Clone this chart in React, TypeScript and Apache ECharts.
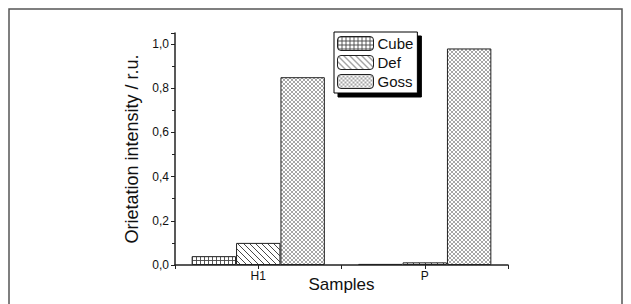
import React, { useEffect, useRef } from "react";
import * as echarts from "echarts";

const categories = ["H1", "P"];
const seriesNames = ["Cube", "Def", "Goss"];
const cubeValues = [0.04, 0.005];
const defValues = [0.1, 0.012];
const gossValues = [0.85, 0.98];
const yTickLabels = ["0,0", "0,2", "0,4", "0,6", "0,8", "1,0"];

function makePattern(kind: string): HTMLCanvasElement {
  const c = document.createElement("canvas");
  const s = kind === "grid" ? 4 : kind === "diag" ? 6 : 4;
  c.width = s;
  c.height = s;
  const ctx = c.getContext("2d")!;
  ctx.fillStyle = "#ffffff";
  ctx.fillRect(0, 0, s, s);
  ctx.beginPath();
  if (kind === "grid") {
    ctx.strokeStyle = "#444444";
    ctx.lineWidth = 0.9;
    ctx.moveTo(0.5, 0);
    ctx.lineTo(0.5, s);
    ctx.moveTo(0, 0.5);
    ctx.lineTo(s, 0.5);
  } else if (kind === "diag") {
    ctx.strokeStyle = "#333333";
    ctx.lineWidth = 0.9;
    ctx.moveTo(-1, -1);
    ctx.lineTo(s + 1, s + 1);
    ctx.moveTo(-1, s - 1);
    ctx.lineTo(1, s + 1);
    ctx.moveTo(s - 1, -1);
    ctx.lineTo(s + 1, 1);
  } else {
    ctx.strokeStyle = "#808080";
    ctx.lineWidth = 0.7;
    ctx.moveTo(0, 0);
    ctx.lineTo(s, s);
    ctx.moveTo(s, 0);
    ctx.lineTo(0, s);
  }
  ctx.stroke();
  return c;
}

export default function App() {
  const ref = useRef<HTMLDivElement>(null);
  useEffect(() => {
    if (!ref.current) return;
    const chart = echarts.init(ref.current, undefined, { renderer: "svg" });
    const patterns = [makePattern("grid"), makePattern("diag"), makePattern("cross")];
    const dataSets = [cubeValues, defValues, gossValues];
    const font = "Liberation Sans, Arial, sans-serif";
    chart.setOption({
      animation: false,
      textStyle: { fontFamily: font },
      graphic: [
        {
          type: "rect",
          shape: { x: 9, y: 9, width: 613, height: 310 },
          style: { fill: "none", stroke: "#555", lineWidth: 1.5 },
          silent: true,
        },
      ],
      grid: { left: 175, right: 123, top: 33, bottom: 39 },
      legend: {
        left: 334,
        top: 32,
        orient: "vertical",
        itemWidth: 36,
        itemHeight: 14,
        itemGap: 4,
        padding: [4, 4, 4, 3],
        borderColor: "#000",
        borderWidth: 1,
        backgroundColor: "#fff",
        shadowColor: "#000",
        shadowBlur: 0,
        shadowOffsetX: 4,
        shadowOffsetY: 4,
        textStyle: { fontSize: 15, color: "#111", fontFamily: font, padding: [0, 0, 0, -1] },
        itemStyle: { borderColor: "#222", borderWidth: 1 },
        data: seriesNames,
      },
      xAxis: [
        {
          type: "category",
          data: categories,
          axisLine: { lineStyle: { color: "#222", width: 1.5 } },
          axisTick: { show: true, length: 4, lineStyle: { color: "#222" } },
          axisLabel: { show: false },
          name: "Samples",
          nameLocation: "middle",
          nameGap: 11,
          nameTextStyle: { fontSize: 17, color: "#111", fontFamily: font, verticalAlign: "top" },
        },
        {
          type: "category",
          data: categories,
          position: "bottom",
          axisLine: { show: false },
          axisTick: { show: true, alignWithLabel: true, length: 4, lineStyle: { color: "#222" } },
          axisLabel: { fontSize: 12, color: "#111", margin: 5, fontFamily: font },
        },
      ],
      yAxis: {
        type: "value",
        min: 0,
        max: 1.05,
        interval: 0.2,
        axisLine: { show: true, lineStyle: { color: "#222", width: 1.5 } },
        axisTick: { show: true, length: 4, lineStyle: { color: "#222" } },
        minorTick: { show: true, splitNumber: 2, length: 3, lineStyle: { color: "#222" } },
        splitLine: { show: false },
        axisLabel: {
          fontSize: 12,
          color: "#111",
          margin: 6,
          fontFamily: font,
          formatter: (v: number) => {
            const i = Math.round(v / 0.2);
            return Math.abs(v - i * 0.2) < 1e-6 && yTickLabels[i] ? yTickLabels[i] : "";
          },
        },
        name: "Orietation intensity / r.u.",
        nameLocation: "middle",
        nameGap: 33,
        nameTextStyle: { fontSize: 18, color: "#111", fontFamily: font },
      },
      series: seriesNames.map((n, i) => ({
        name: n,
        type: "bar",
        xAxisIndex: 0,
        data: dataSets[i],
        barGap: "0%",
        barCategoryGap: "20%",
        itemStyle: {
          color: { image: patterns[i], repeat: "repeat" },
          borderColor: "#222",
          borderWidth: 1,
        },
      })),
    });
    return () => chart.dispose();
  }, []);
  return (
    <div
      ref={ref}
      style={{ position: "absolute", left: 0, top: 0, width: 631, height: 304, background: "#fff" }}
    />
  );
}
